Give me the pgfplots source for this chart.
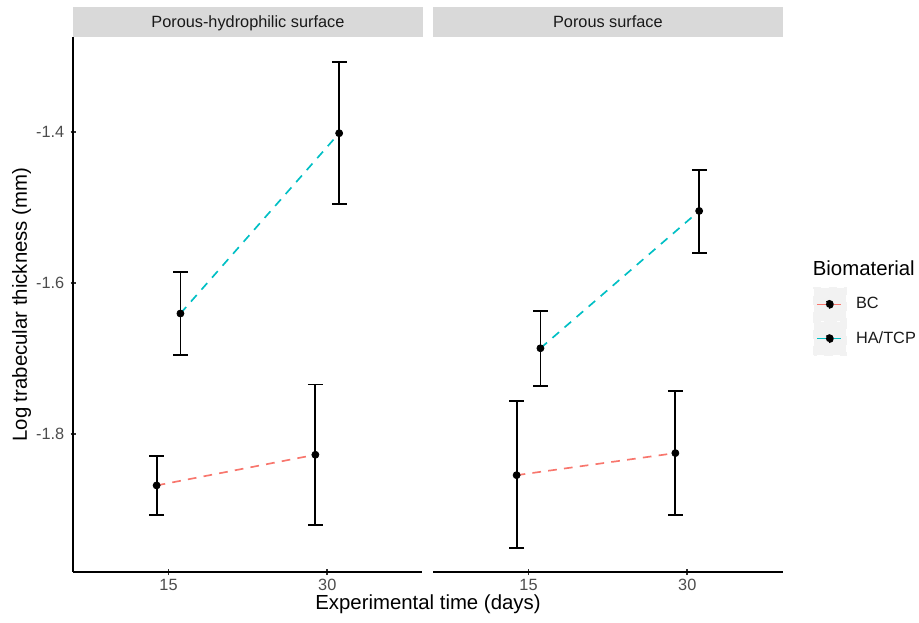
\documentclass[border=0pt]{standalone}
\usepackage{fontspec}
\setmainfont{Liberation Sans}
\usepackage{pgfplots}
\usepackage{pgfplotstable}
\pgfplotsset{compat=1.18}

\definecolor{bcred}{HTML}{F8766D}
\definecolor{hacyan}{HTML}{00BFC4}
\definecolor{stripgrey}{HTML}{D9D9D9}
\definecolor{keygrey}{HTML}{F2F2F2}

% pos: 1 = 15 days, 2 = 30 days; y = mean, lo/hi = error bar ends
\pgfplotstableread{
pos y lo hi
1 -1.8676 -1.9065 -1.8290
2 -1.8270 -1.9200 -1.7340
}\phbc
\pgfplotstableread{
pos y lo hi
1 -1.6400 -1.6950 -1.5850
2 -1.4013 -1.4954 -1.3069
}\phha
\pgfplotstableread{
pos y lo hi
1 -1.8540 -1.9500 -1.7560
2 -1.8248 -1.9070 -1.7427
}\pbc
\pgfplotstableread{
pos y lo hi
1 -1.6860 -1.7356 -1.6370
2 -1.5042 -1.5595 -1.4500
}\pha

\pgfplotsset{
  panel/.style={
    scale only axis, width=188.57pt, height=288.74pt, anchor=south west,
    xmin=0.4, xmax=2.6, ymin=-1.9822, ymax=-1.2743,
    xtick={1,2}, xticklabels={15,30},
    tick align=outside, major tick length=2.75pt,
    tick style={color=black!80, line width=1pt},
    ticklabel style={font=\fontsize{8.8}{10}\selectfont, text=black!70},
    xticklabel style={inner sep=0.5pt, yshift=-1.8pt},
    clip=false,
  },
  plainlines/.style={
    axis line style={-, black, line width=1pt},
    x axis line style={-}, y axis line style={-},
  },
  pts/.style={only marks, mark=*, mark size=1.9pt, black, forget plot},
  grpline/.style={#1, line width=0.9pt, dash pattern=on 4.7pt off 3.9pt, no marks},
  ebar/.style={draw=none, no marks, forget plot,
    error bars/.cd, y dir=both, y explicit,
    error bar style={draw=black, line width=0.95pt, solid},
    error mark options={rotate=90, draw=black, line width=0.95pt, mark size=4pt, solid}},
}

\begin{document}
\begin{tikzpicture}
\useasboundingbox (0,0) rectangle (496.26pt,336.42pt);

% facet strips
\fill[stripgrey] (39.58pt,316.28pt) rectangle (228.15pt,332.8pt);
\fill[stripgrey] (233.98pt,316.28pt) rectangle (422.55pt,332.8pt);
\node[anchor=base, inner sep=0pt, text=black!90, font=\fontsize{8.8}{10}\selectfont] at (133.87pt,321.46pt) {Porous-hydrophilic surface};
\node[anchor=base, inner sep=0pt, text=black!90, font=\fontsize{8.8}{10}\selectfont] at (328.27pt,321.46pt) {Porous surface};

\begin{axis}[panel, at={(39.58pt,27.54pt)},
  axis x line=bottom, axis y line=left, plainlines,
  ytick={-1.8,-1.6,-1.4}, yticklabels={-1.8,-1.6,-1.4},
  ylabel={Log trabecular thickness (mm)},
  ylabel style={at={(axis description cs:-0.1483,0.5)}, anchor=center, font=\fontsize{11}{13}\selectfont},
  xlabel={Experimental time (days)},
  xlabel style={at={(axis description cs:1.0157,-0.0701)}, anchor=base, inner sep=0pt, font=\fontsize{11}{13}\selectfont},
]
\addplot[pts] table[x expr=\thisrow{pos}-0.075, y=y] {\phbc};
\addplot[pts] table[x expr=\thisrow{pos}+0.075, y=y] {\phha};
\addplot[grpline=bcred, forget plot] table[x expr=\thisrow{pos}-0.075, y=y] {\phbc};
\addplot[grpline=hacyan, forget plot] table[x expr=\thisrow{pos}+0.075, y=y] {\phha};
\addplot[ebar] table[x expr=\thisrow{pos}-0.075, y=y,
  y error plus expr=\thisrow{hi}-\thisrow{y}, y error minus expr=\thisrow{y}-\thisrow{lo}] {\phbc};
\addplot[ebar] table[x expr=\thisrow{pos}+0.075, y=y,
  y error plus expr=\thisrow{hi}-\thisrow{y}, y error minus expr=\thisrow{y}-\thisrow{lo}] {\phha};
\end{axis}

\begin{axis}[panel, at={(233.98pt,27.54pt)},
  axis x line=bottom, axis y line=none, plainlines, ytick=\empty,
  legend cell align=left,
  legend image code/.code={
    \fill[keygrey] (0pt,-8.9pt) rectangle (17.45pt,8.9pt);
    \draw[#1, solid, line width=0.9pt] (1.8pt,0pt) -- (14.9pt,0pt);
    \fill[black] (8.5pt,0pt) circle (1.9pt);
  },
  legend style={at={(1.0859,0.5336)}, anchor=north west, draw=none, fill=none,
    inner sep=0pt, row sep=-0.2pt, column sep=5pt,
    font=\fontsize{8.8}{10}\selectfont, text=black!90,
    nodes={inner sep=0pt},
    label={[anchor=base west, inner sep=0pt, yshift=6.3pt, text=black, font=\fontsize{11}{13}\selectfont]north west:Biomaterial}},
]
\addplot[pts] table[x expr=\thisrow{pos}-0.075, y=y] {\pbc};
\addplot[pts] table[x expr=\thisrow{pos}+0.075, y=y] {\pha};
\addplot[grpline=bcred] table[x expr=\thisrow{pos}-0.075, y=y] {\pbc};
\addlegendentry{BC}
\addplot[grpline=hacyan] table[x expr=\thisrow{pos}+0.075, y=y] {\pha};
\addlegendentry{HA/TCP}
\addplot[ebar] table[x expr=\thisrow{pos}-0.075, y=y,
  y error plus expr=\thisrow{hi}-\thisrow{y}, y error minus expr=\thisrow{y}-\thisrow{lo}] {\pbc};
\addplot[ebar] table[x expr=\thisrow{pos}+0.075, y=y,
  y error plus expr=\thisrow{hi}-\thisrow{y}, y error minus expr=\thisrow{y}-\thisrow{lo}] {\pha};
\end{axis}
\end{tikzpicture}
\end{document}
